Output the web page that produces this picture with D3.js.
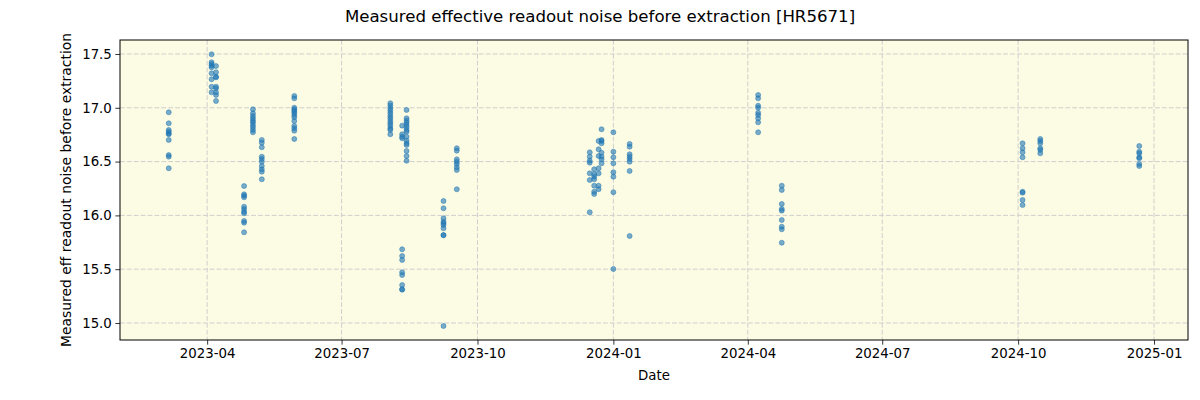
<!DOCTYPE html>
<html><head><meta charset="utf-8">
<script src="https://cdn.jsdelivr.net/npm/d3@7"></script>
<style>body{margin:0;background:#fff}svg{display:block}text{font-family:"DejaVu Sans",sans-serif;fill:#000}</style>
</head><body><svg id="c" width="1200" height="400"></svg>
<script>
// observation groups: date + measured values
const dates = ["2023-03-06","2023-04-04","2023-04-07","2023-04-26","2023-05-02","2023-05-08","2023-05-30",
  "2023-08-03","2023-08-11","2023-08-14","2023-09-08","2023-09-17",
  "2023-12-16","2023-12-19","2023-12-22","2023-12-24","2024-01-01","2024-01-12",
  "2024-04-08","2024-04-24","2024-10-04","2024-10-16","2024-12-22"];
const values = [
  [16.958,16.856,16.794,16.778,16.762,16.754,16.701,16.561,16.546,16.438],
  [17.497,17.423,17.407,17.391,17.376,17.321,17.265,17.196,17.144],
  [17.388,17.330,17.289,17.283,17.196,17.181,17.144,17.119,17.063],
  [16.273,16.196,16.183,16.168,16.081,16.059,16.034,16.020,15.948,15.932,15.843],
  [16.986,16.949,16.924,16.902,16.880,16.865,16.840,16.819,16.794,16.772],
  [16.701,16.676,16.633,16.546,16.524,16.499,16.459,16.428,16.406,16.336],
  [17.110,17.088,17.001,16.986,16.970,16.954,16.933,16.912,16.877,16.831,16.809,16.787,16.710],
  [17.042,17.020,16.995,16.973,16.949,16.924,16.902,16.877,16.856,16.834,16.809,16.794,16.754],
  [16.834,16.754,16.731,16.717,15.685,15.623,15.586,15.471,15.446,15.353,15.313,15.310],
  [16.980,16.902,16.880,16.862,16.840,16.819,16.794,16.778,16.731,16.694,16.670,16.654,16.599,16.552,16.508],
  [16.134,16.066,15.973,15.941,15.927,15.911,15.880,15.818,15.815,14.972],
  [16.624,16.601,16.521,16.499,16.478,16.447,16.422,16.243],
  [16.586,16.546,16.508,16.490,16.391,16.329,16.029],
  [16.428,16.382,16.360,16.336,16.276,16.220,16.199],
  [16.691,16.614,16.552,16.438,16.391,16.276,16.243],
  [16.800,16.701,16.691,16.670,16.583,16.546,16.521,16.484],
  [16.772,16.592,16.540,16.484,16.401,16.360,16.215,15.502],
  [16.664,16.639,16.568,16.546,16.524,16.499,16.413,15.809],
  [17.119,17.088,17.020,17.001,16.954,16.933,16.902,16.865,16.772],
  [16.276,16.236,16.106,16.059,16.044,15.957,15.895,15.871,15.746],
  [16.670,16.624,16.586,16.540,16.220,16.211,16.143,16.097],
  [16.710,16.691,16.670,16.624,16.608,16.577],
  [16.645,16.592,16.577,16.540,16.531,16.478,16.459]
];
const yTicks = [15.0,15.5,16.0,16.5,17.0,17.5];
const xTickLabels = ["2023-04","2023-07","2023-10","2024-01","2024-04","2024-07","2024-10","2025-01"];
const title = "Measured effective readout noise before extraction [HR5671]";
const xLabel = "Date";
const yLabel = "Measured eff readout noise before extraction";

const parse = d3.utcParse("%Y-%m-%d");
const pts = [];
dates.forEach((d,i)=>values[i].forEach(v=>pts.push({d:parse(d),v})));

const L=120,R=1188,T=40,B=340;
const svg=d3.select("#c");
const x=d3.scaleUtc().domain([parse("2023-02-01"),parse("2025-01-24")]).range([L,R]);
const y=d3.scaleLinear().domain([14.842,17.630]).range([B,T]);

svg.append("rect").attr("x",L).attr("y",T).attr("width",R-L).attr("height",B-T).attr("fill","#fcfbe3");

const xt = xTickLabels.map(s=>parse(s+"-01"));
const grid=svg.append("g").attr("stroke","#cfcfcf").attr("stroke-width",1).attr("stroke-dasharray","4.8,2.1");
xt.forEach(t=>grid.append("line").attr("x1",x(t)).attr("x2",x(t)).attr("y1",T).attr("y2",B));
yTicks.forEach(t=>grid.append("line").attr("x1",L).attr("x2",R).attr("y1",y(t)).attr("y2",y(t)));

svg.append("g").selectAll("circle").data(pts).join("circle")
  .attr("cx",d=>x(d.d)).attr("cy",d=>y(d.v)).attr("r",2.5)
  .attr("fill","#1f77b4").attr("fill-opacity",0.6)
  .attr("stroke","#1f77b4").attr("stroke-opacity",0.6).attr("stroke-width",0.8);

const xAxis=d3.axisBottom(x).tickValues(xt).tickFormat((d,i)=>xTickLabels[i]).tickSizeOuter(0).tickSize(4.67).tickPadding(3.5);
const gx=svg.append("g").attr("transform",`translate(0,${B})`).call(xAxis);
const yAxis=d3.axisLeft(y).tickValues(yTicks).tickFormat(d3.format(".1f")).tickSizeOuter(0).tickSize(4.67).tickPadding(3.5);
const gy=svg.append("g").attr("transform",`translate(${L},0)`).call(yAxis);
[gx,gy].forEach(g=>{g.select(".domain").remove();g.selectAll("text").attr("font-size","13.33px").attr("font-family","DejaVu Sans").attr("fill","#000");g.selectAll("line").attr("stroke","#000").attr("stroke-width",0.8);});

svg.append("rect").attr("x",L).attr("y",T).attr("width",R-L).attr("height",B-T).attr("fill","none").attr("stroke","#000").attr("stroke-width",1);

svg.append("text").attr("x",600).attr("y",22).attr("text-anchor","middle").attr("font-size","16.6px").text(title);
svg.append("text").attr("x",(L+R)/2).attr("y",380).attr("text-anchor","middle").attr("font-size","13.33px").text(xLabel);
svg.append("text").attr("transform",`translate(71,${(T+B)/2}) rotate(-90)`).attr("text-anchor","middle").attr("font-size","13.9px").text(yLabel);
</script></body></html>
